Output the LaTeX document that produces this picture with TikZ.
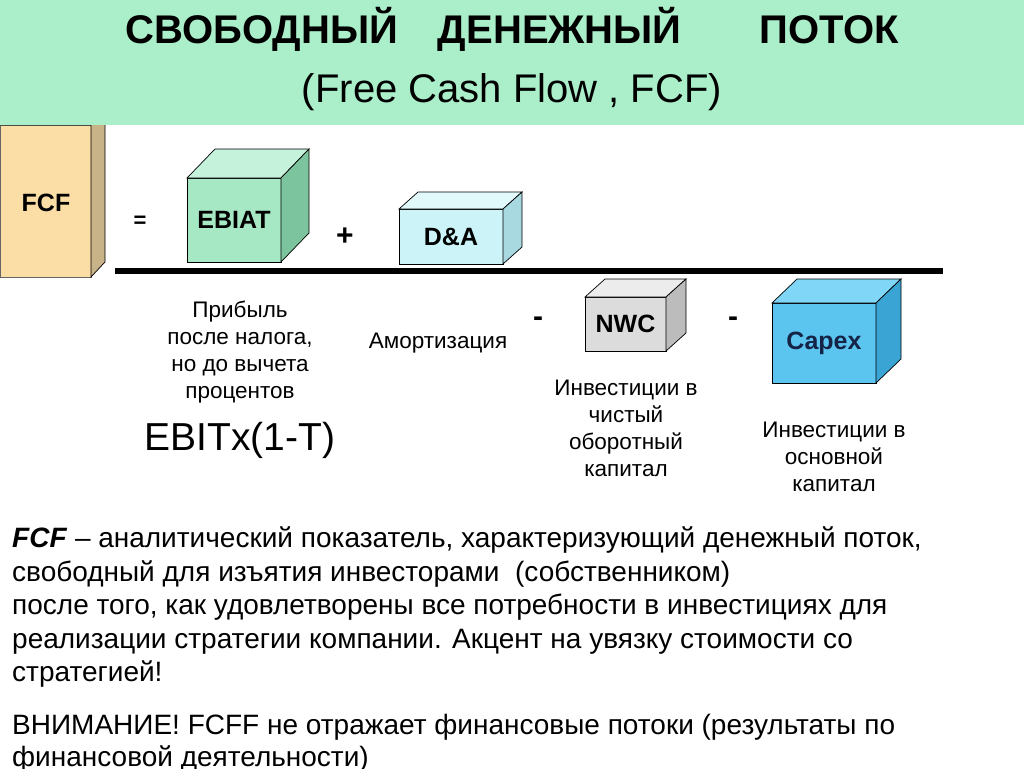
\documentclass[tikz,border=0pt]{standalone}
\usepackage{fontspec}
\setmainfont{Liberation Sans}

\definecolor{bandgreen}{RGB}{170,238,202}
\definecolor{fcffront}{RGB}{251,222,165}
\definecolor{fcfside}{RGB}{200,178,136}
\definecolor{ebiatfront}{RGB}{166,232,196}
\definecolor{ebiattop}{RGB}{196,242,218}
\definecolor{ebiatside}{RGB}{124,196,158}
\definecolor{dafront}{RGB}{204,244,248}
\definecolor{datop}{RGB}{226,249,252}
\definecolor{daside}{RGB}{168,216,224}
\definecolor{nwcfront}{RGB}{220,220,220}
\definecolor{nwctop}{RGB}{236,236,236}
\definecolor{nwcside}{RGB}{188,188,188}
\definecolor{capexfront}{RGB}{91,197,240}
\definecolor{capextop}{RGB}{128,214,246}
\definecolor{capexside}{RGB}{58,165,213}
\definecolor{capexink}{RGB}{20,35,70}

% top and side faces of a box whose front face is node #1
\newcommand{\boxfaces}[5]{%
	\filldraw[fill=#4, draw=black, line width=0.7pt] (#1.north west) -- ++(#2,-#3)
		-- ([shift={(#2,-#3)}]#1.north east) -- (#1.north east) -- cycle;
	\filldraw[fill=#5, draw=black, line width=0.7pt] (#1.north east) -- ([shift={(#2,-#3)}]#1.north east)
		-- ([shift={(#2,-#3)}]#1.south east) -- (#1.south east) -- cycle;
}

\begin{document}
\begin{tikzpicture}[x=1pt,y=-1pt]
	
	\tikzstyle{boxfront}=[rectangle,
	draw=black,
	line width=0.7pt,
	inner sep=0pt,
	outer sep=0pt,
	font=\fontsize{25}{27}\selectfont\bfseries
	]
	\tikzstyle{sign}=[font=\fontsize{30}{30}\selectfont\bfseries]
	\tikzstyle{note}=[align=center, font=\fontsize{22.5}{27}\selectfont]
	\tikzstyle{sepline}=[line width=6pt]
	
	\useasboundingbox (0,0) rectangle (1024,768);
	\fill[white] (0,0) rectangle (1024,768);
	
	\coordinate (pfcf) at (45.5,201);
	\coordinate (pebiat) at (234,220);
	\coordinate (pda) at (451,236.5);
	\coordinate (pnwc) at (625.5,324);
	\coordinate (pcapex) at (824,343);
	
	% left box, partly hidden by the band
	\node[boxfront, fill=fcffront, draw=black!60, minimum width=91pt, minimum height=152pt] (fcf) at (pfcf) {};
	\boxfaces{fcf}{14}{15}{fcffront}{fcfside}
	\node[font=\fontsize{25}{27}\selectfont\bfseries] (fcftext) at (46,203) {FCF};
	
	\fill[bandgreen] (0,0) rectangle (1024,125);
	\node[font=\fontsize{40}{42}\selectfont\bfseries] (title) at (512,29)
		{СВОБОДНЫЙ\hspace{40pt}ДЕНЕЖНЫЙ\hspace{78pt}ПОТОК};
	\node[font=\fontsize{40}{44}\selectfont] (subtitle) at (512,92) {(Free Cash Flow , FCF)};
	
	\node[boxfront, fill=ebiatfront, minimum width=94pt, minimum height=84pt] (ebiat) at (pebiat) {EBIAT};
	\boxfaces{ebiat}{28}{29}{ebiattop}{ebiatside}
	
	\node[boxfront, fill=dafront, minimum width=104pt, minimum height=55pt] (da) at (pda) {D\&A};
	\boxfaces{da}{19}{17}{datop}{daside}
	
	\node[boxfront, fill=nwcfront, minimum width=81pt, minimum height=54pt] (nwc) at (pnwc) {NWC};
	\boxfaces{nwc}{20}{18}{nwctop}{nwcside}
	
	\node[boxfront, fill=capexfront, text=capexink, minimum width=104pt, minimum height=80pt] (capex) at (pcapex) {Capex};
	\boxfaces{capex}{25}{24}{capextop}{capexside}
	
	\node[font=\fontsize{22}{22}\selectfont\bfseries] (eq) at (140,222) {=};
	\node[sign] (plus) at (345,237) {+};
	\node[sign] (minusa) at (538,322) {-};
	\node[sign] (minusb) at (733,322) {-};
	
	\coordinate (linel) at (115,271);
	\coordinate (liner) at (943,271);
	\draw[sepline] (linel) -- (liner);
	
	\node[note, anchor=north] (ebiatnote) at (240,297) {Прибыль\\после налога,\\но до вычета\\процентов};
	\node[note] (danote) at (438,343) {Амортизация};
	\node[note, anchor=north] (nwcnote) at (626,376) {Инвестиции в\\чистый\\оборотный\\капитал};
	\node[note, anchor=north] (capexnote) at (834,418) {Инвестиции в\\основной\\капитал};
	\node[font=\fontsize{39}{40}\selectfont] (ebitformula) at (240,440) {EBITx(1-T)};
	
	\node[align=left, anchor=north west, inner sep=0pt, font=\fontsize{28}{33.5}\selectfont] (para) at (12,527)
		{\textbf{\textit{FCF}} – аналитический показатель, характеризующий денежный поток,\\
		свободный для изъятия инвесторами \ (собственником)\\
		после того, как удовлетворены все потребности в инвестициях для\\
		реализации стратегии компании. Акцент на увязку стоимости со\\
		стратегией!};
	\node[align=left, anchor=north west, inner sep=0pt, font=\fontsize{28}{32}\selectfont] (attention) at (12,714)
		{ВНИМАНИЕ! FCFF не отражает финансовые потоки (результаты по\\
		финансовой деятельности)};
	
\end{tikzpicture}
\end{document}
